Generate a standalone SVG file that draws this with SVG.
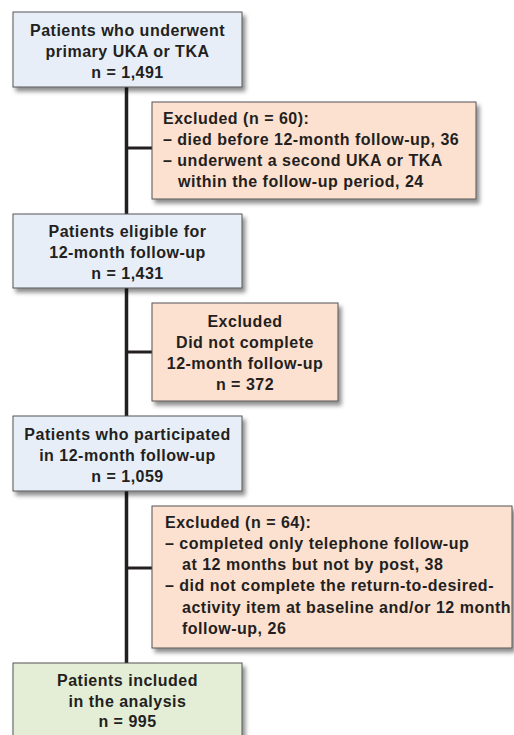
<svg xmlns="http://www.w3.org/2000/svg" width="514" height="735" viewBox="0 0 514 735">
<defs>
<filter id="sh" x="-10%" y="-10%" width="130%" height="140%">
<feDropShadow dx="3" dy="4" stdDeviation="2.2" flood-color="#000" flood-opacity="0.45"/>
</filter>
</defs>
<style>
.box{stroke:#555;stroke-width:1;filter:url(#sh)}
.blue{fill:#e7eef8}
.orange{fill:#fde1d0}
.green{fill:#e4eed7}
text{font-family:"Liberation Sans",Arial,sans-serif;font-size:16px;font-weight:bold;fill:#231f20;letter-spacing:0.5px}
.c{text-anchor:middle}
.conn{stroke:#231f20;fill:none}
</style>
<rect width="514" height="735" fill="#fff"/>
<g id="connectors">
<line class="conn" x1="126.5" y1="87" x2="126.5" y2="663" stroke-width="3.5"/>
<line class="conn" x1="126.5" y1="148" x2="152" y2="148" stroke-width="3"/>
<line class="conn" x1="126.5" y1="352" x2="152" y2="352" stroke-width="3"/>
<line class="conn" x1="126.5" y1="568" x2="152" y2="568" stroke-width="3"/>
</g>
<g id="n1">
<rect class="box blue" x="13" y="12" width="229" height="75"/>
<text class="c" x="127.5" y="36">Patients who underwent</text>
<text class="c" x="127.5" y="57">primary UKA or TKA</text>
<text class="c" x="127.5" y="78">n = 1,491</text>
</g>
<g id="n2">
<rect class="box orange" x="152" y="102" width="324" height="97"/>
<text x="163" y="124">Excluded (n = 60):</text>
<text x="163" y="145">– died before 12-month follow-up, 36</text>
<text x="163" y="166">– underwent a second UKA or TKA</text>
<text x="178" y="187">within the follow-up period, 24</text>
</g>
<g id="n3">
<rect class="box blue" x="13" y="214" width="229" height="74"/>
<text class="c" x="127.5" y="237">Patients eligible for</text>
<text class="c" x="127.5" y="258">12-month follow-up</text>
<text class="c" x="127.5" y="279">n = 1,431</text>
</g>
<g id="n4">
<rect class="box orange" x="152" y="303" width="186" height="98"/>
<text class="c" x="245" y="327">Excluded</text>
<text class="c" x="245" y="348">Did not complete</text>
<text class="c" x="245" y="369">12-month follow-up</text>
<text class="c" x="245" y="390">n = 372</text>
</g>
<g id="n5">
<rect class="box blue" x="13" y="416" width="229" height="75"/>
<text class="c" x="127.5" y="440">Patients who participated</text>
<text class="c" x="127.5" y="461">in 12-month follow-up</text>
<text class="c" x="127.5" y="482">n = 1,059</text>
</g>
<g id="n6">
<rect class="box orange" x="152" y="506" width="360" height="142"/>
<text x="165" y="528">Excluded (n = 64):</text>
<text x="165" y="549">– completed only telephone follow-up</text>
<text x="182" y="570">at 12 months but not by post, 38</text>
<text x="165" y="591">– did not complete the return-to-desired-</text>
<text x="182" y="613">activity item at baseline and/or 12 month</text>
<text x="182" y="634">follow-up, 26</text>
</g>
<g id="n7">
<rect class="box green" x="13" y="663" width="229" height="82"/>
<text class="c" x="127.5" y="686">Patients included</text>
<text class="c" x="127.5" y="707">in the analysis</text>
<text class="c" x="127.5" y="727">n = 995</text>
</g>
</svg>
